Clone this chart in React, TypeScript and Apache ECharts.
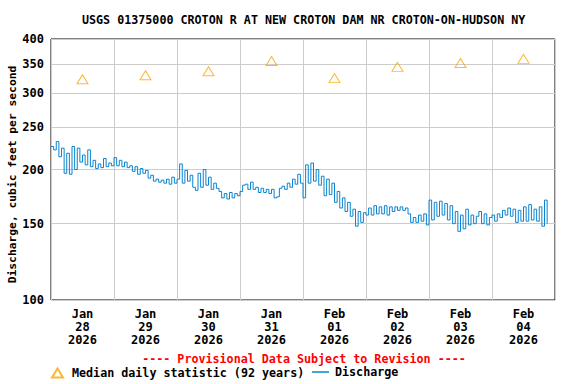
import React, { useEffect, useRef } from 'react';
import * as echarts from 'echarts';

const chartTitle = 'USGS 01375000 CROTON R AT NEW CROTON DAM NR CROTON-ON-HUDSON NY';
const provisionalNote = '---- Provisional Data Subject to Revision ----';
const yAxisName = 'Discharge, cubic feet per second';
const dayLabels = ['Jan\n28\n2026', 'Jan\n29\n2026', 'Jan\n30\n2026', 'Jan\n31\n2026', 'Feb\n01\n2026', 'Feb\n02\n2026', 'Feb\n03\n2026', 'Feb\n04\n2026'];
const yTicks = [100, 150, 200, 250, 300, 350, 400];

// Median daily statistic (92 years), plotted at noon of each day (hours since Jan 28 00:00)
const medianHours = [12, 36, 60, 84, 108, 132, 156, 180];
const medianDaily = [323, 330, 337, 356, 325, 345, 352, 360];

// Discharge, hourly readings (cfs), hour 0 = Jan 28 00:00
const dischargeJan28 = [226, 222, 232, 214, 224, 196, 218, 195, 226, 200, 224, 208, 216, 205, 222, 203, 210, 201, 206, 202, 212, 203, 207, 204];
const dischargeJan29 = [213, 204, 210, 203, 208, 202, 204, 198, 203, 195, 201, 196, 199, 191, 194, 188, 190, 187, 189, 186, 190, 185, 192, 186];
const dischargeJan30 = [190, 206, 186, 199, 188, 194, 182, 179, 196, 182, 200, 184, 192, 180, 186, 181, 178, 172, 176, 171, 177, 172, 176, 174];
const dischargeJan31 = [178, 184, 185, 180, 187, 180, 182, 177, 181, 177, 180, 176, 180, 172, 173, 181, 183, 180, 186, 182, 190, 185, 195, 186];
const dischargeFeb01 = [172, 205, 186, 207, 188, 200, 184, 193, 174, 190, 175, 186, 168, 178, 163, 172, 160, 168, 156, 162, 148, 160, 151, 159];
const dischargeFeb02 = [157, 163, 157, 165, 158, 164, 158, 165, 157, 164, 160, 164, 161, 164, 161, 163, 158, 151, 155, 151, 157, 152, 158, 149];
const dischargeFeb03 = [170, 153, 168, 156, 169, 157, 167, 153, 165, 150, 160, 144, 157, 146, 162, 149, 157, 150, 156, 160, 150, 158, 149, 155];
const dischargeFeb04 = [157, 152, 158, 155, 161, 157, 163, 156, 162, 151, 161, 152, 164, 152, 166, 153, 162, 152, 164, 148, 170, 150];

const discharge = [
  ...dischargeJan28, ...dischargeJan29, ...dischargeJan30, ...dischargeJan31,
  ...dischargeFeb01, ...dischargeFeb02, ...dischargeFeb03, ...dischargeFeb04,
];

const FONT = "'DejaVu Sans Mono', monospace";
const lg = (v: number) => Math.log10(v);

export default function App() {
  const ref = useRef<HTMLDivElement>(null);
  useEffect(() => {
    if (!ref.current) return;
    const chart = echarts.init(ref.current, null, { renderer: 'svg' });
    const tickVals = yTicks.map(lg);
    const txt = { fontFamily: FONT, fontWeight: 'bold' as const, fontSize: 12, color: '#000' };
    chart.setOption({
      animation: false,
      backgroundColor: '#fff',
      title: {
        text: chartTitle,
        left: 82,
        top: 14,
        padding: 0,
        textStyle: { ...txt, fontSize: 11.7 },
      },
      grid: {
        left: 51, right: 21, top: 39, bottom: 84,
        show: true, borderColor: '#000', borderWidth: 1, backgroundColor: 'transparent',
        containLabel: false, outerBoundsMode: 'none',
      },
      xAxis: [
        {
          type: 'value', min: 0, max: 192, interval: 24,
          axisLabel: { show: false }, axisTick: { show: false }, axisLine: { show: false },
          splitLine: { show: true, lineStyle: { color: '#cccccc', width: 1 } },
        },
        {
          type: 'category', data: dayLabels, boundaryGap: true, position: 'bottom',
          axisTick: { show: false }, axisLine: { show: false }, splitLine: { show: false },
          axisLabel: { ...txt, margin: 7, lineHeight: 13.3, interval: 0 },
        },
      ],
      yAxis: {
        type: 'value', min: lg(100), max: lg(400),
        name: yAxisName, nameLocation: 'middle', nameGap: 33, nameMoveOverlap: false,
        nameTextStyle: { ...txt, fontSize: 11.3, padding: [0, 10, 0, 0] },
        axisLine: { show: false },
        axisTick: { show: false, customValues: tickVals },
        axisLabel: {
          ...txt, margin: 7, customValues: tickVals,
          formatter: (v: number) => String(Math.round(Math.pow(10, v))),
        },
        splitLine: { show: true, lineStyle: { color: '#cccccc', width: 1 } },
      },
      legend: [
        {
          left: 51, top: 367, itemWidth: 11, itemHeight: 9, padding: 0,
          data: ['Median daily statistic (92 years)'],
          textStyle: { ...txt, fontSize: 11.7, padding: [0, 0, 0, 4] },
        },
        {
          left: 312, top: 366, itemWidth: 17, itemHeight: 1.5, padding: 0,
          data: [{ name: 'Discharge', icon: 'rect' }],
          textStyle: { ...txt, fontSize: 11.7, padding: [0, 0, 0, 1] },
        },
      ],
      graphic: [
        {
          type: 'text', x: 304, y: 359,
          style: {
            text: provisionalNote, fill: '#ff0000', font: `bold 11.7px ${FONT}`,
            align: 'center', verticalAlign: 'middle', textAlign: 'center', textVerticalAlign: 'middle',
          },
        },
      ],
      series: [
        {
          name: 'Discharge', type: 'line', xAxisIndex: 0,
          data: discharge.map((v, i) => [i, lg(v)]),
          symbol: 'none', step: 'end',
          lineStyle: { color: '#0a84d0', width: 1 },
          itemStyle: { color: '#0a84d0' },
          z: 3,
        },
        {
          name: 'Median daily statistic (92 years)', type: 'scatter', xAxisIndex: 0,
          data: medianHours.map((h, i) => [h, lg(medianDaily[i])]),
          symbol: 'triangle', symbolSize: [11, 9],
          itemStyle: { color: 'rgba(255,255,255,0)', borderColor: '#ffa500', borderWidth: 1 },
          z: 4,
        },
      ],
    });
    return () => chart.dispose();
  }, []);
  return <div ref={ref} style={{ width: 576, height: 384, position: 'absolute', left: 0, top: 0 }} />;
}
